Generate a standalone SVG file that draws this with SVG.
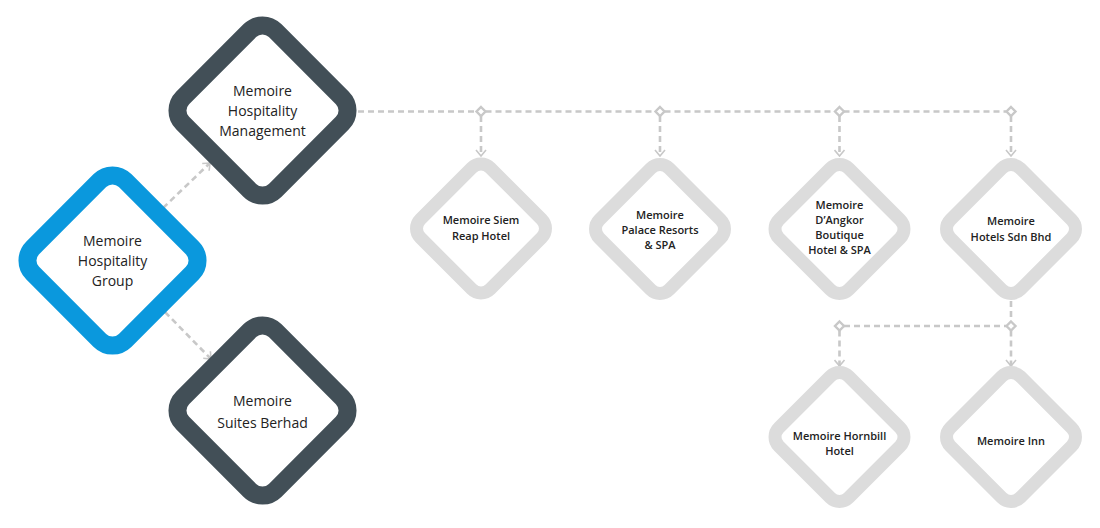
<svg xmlns="http://www.w3.org/2000/svg" width="1100" height="528" viewBox="0 0 1100 528">
<style>
.big{fill:#fff;stroke-width:18}
.dark{stroke:#424f57}
.blue{stroke:#0a98dd}
.sm{fill:#fff;stroke:#dcdcdc;stroke-width:13}
.t1{font-family:"Open Sans","Liberation Sans",sans-serif;font-size:14px;fill:#222;text-anchor:middle}
.t2{font-family:"Open Sans","Liberation Sans",sans-serif;font-size:11px;font-weight:600;fill:#222;text-anchor:middle}
.ln{fill:none;stroke:#c8c8c8;stroke-width:2.6;stroke-dasharray:6 4}
.jn{fill:#fff;stroke:#c8c8c8;stroke-width:2.4}
</style>
<defs>
<marker id="arr" viewBox="0 0 8 12" refX="7" refY="6" markerWidth="8" markerHeight="12" markerUnits="userSpaceOnUse" orient="auto">
<path d="M1,1 L7,6 L1,11" fill="none" stroke="#c8c8c8" stroke-width="1.6"/>
</marker>
</defs>
<g id="connectors">
<path class="ln" d="M163,208 L210,163" marker-end="url(#arr)"/>
<path class="ln" d="M165,312 L211,359" marker-end="url(#arr)"/>
<path class="ln" d="M358,111.5 H476.5 M485.5,111.5 H655.5 M664.5,111.5 H834.5 M843.5,111.5 H1006"/>
<path class="ln" d="M481,116 V156" marker-end="url(#arr)"/>
<path class="ln" d="M660,116 V156" marker-end="url(#arr)"/>
<path class="ln" d="M839.5,116 V156" marker-end="url(#arr)"/>
<path class="ln" d="M1011,116 V156" marker-end="url(#arr)"/>
<path class="ln" d="M1011,301 V321"/>
<path class="ln" d="M844,326 H1006.5"/>
<path class="ln" d="M839.5,330.5 V366" marker-end="url(#arr)"/>
<path class="ln" d="M1011,330.5 V366" marker-end="url(#arr)"/>
<path class="jn" d="M481,107 L485.5,111.5 L481,116 L476.5,111.5 Z"/>
<path class="jn" d="M660,107 L664.5,111.5 L660,116 L655.5,111.5 Z"/>
<path class="jn" d="M839.5,107 L844,111.5 L839.5,116 L835,111.5 Z"/>
<path class="jn" d="M1011,107 L1015.5,111.5 L1011,116 L1006.5,111.5 Z"/>
<path class="jn" d="M839.5,321.5 L844,326 L839.5,330.5 L835,326 Z"/>
<path class="jn" d="M1011,321.5 L1015.5,326 L1011,330.5 L1006.5,326 Z"/>
</g>
<g id="group">
<rect class="big blue" x="-65.4" y="-65.4" width="130.8" height="130.8" rx="18" transform="translate(112.5,260.5) rotate(45)"/>
<text class="t1" x="112.5" y="245.5">Memoire</text>
<text class="t1" x="112.5" y="266">Hospitality</text>
<text class="t1" x="112.5" y="286">Group</text>
</g>
<g id="management">
<rect class="big dark" x="-65.4" y="-65.4" width="130.8" height="130.8" rx="18" transform="translate(262.5,110.5) rotate(45)"/>
<text class="t1" x="262.5" y="96">Memoire</text>
<text class="t1" x="262.5" y="115.5">Hospitality</text>
<text class="t1" x="262.5" y="136">Management</text>
</g>
<g id="suites">
<rect class="big dark" x="-65.4" y="-65.4" width="130.8" height="130.8" rx="18" transform="translate(262.5,410.5) rotate(45)"/>
<text class="t1" x="262.5" y="405.5">Memoire</text>
<text class="t1" x="262.5" y="428">Suites Berhad</text>
</g>
<g id="siemreap">
<rect class="sm" x="-49.4" y="-49.4" width="98.8" height="98.8" rx="13" transform="translate(481,228.5) rotate(45)"/>
<text class="t2" x="481" y="224">Memoire Siem</text>
<text class="t2" x="481" y="239.5">Reap Hotel</text>
</g>
<g id="palace">
<rect class="sm" x="-49.4" y="-49.4" width="98.8" height="98.8" rx="13" transform="translate(660,229) rotate(45)"/>
<text class="t2" x="660" y="218.5">Memoire</text>
<text class="t2" x="660" y="233.5">Palace Resorts</text>
<text class="t2" x="660" y="248.5">&amp; SPA</text>
</g>
<g id="dangkor">
<rect class="sm" x="-49.4" y="-49.4" width="98.8" height="98.8" rx="13" transform="translate(839.5,229) rotate(45)"/>
<text class="t2" x="839.5" y="208.5">Memoire</text>
<text class="t2" x="839.5" y="223.5">D’Angkor</text>
<text class="t2" x="839.5" y="238.5">Boutique</text>
<text class="t2" x="839.5" y="254">Hotel &amp; SPA</text>
</g>
<g id="hotelssdn">
<rect class="sm" x="-49.4" y="-49.4" width="98.8" height="98.8" rx="13" transform="translate(1011,229) rotate(45)"/>
<text class="t2" x="1011" y="225">Memoire</text>
<text class="t2" x="1011" y="240.5">Hotels Sdn Bhd</text>
</g>
<g id="hornbill">
<rect class="sm" x="-49.4" y="-49.4" width="98.8" height="98.8" rx="13" transform="translate(839.5,437) rotate(45)"/>
<text class="t2" x="839.5" y="440">Memoire Hornbill</text>
<text class="t2" x="839.5" y="455">Hotel</text>
</g>
<g id="inn">
<rect class="sm" x="-49.4" y="-49.4" width="98.8" height="98.8" rx="13" transform="translate(1011,437) rotate(45)"/>
<text class="t2" x="1011" y="444.5">Memoire Inn</text>
</g>
</svg>
